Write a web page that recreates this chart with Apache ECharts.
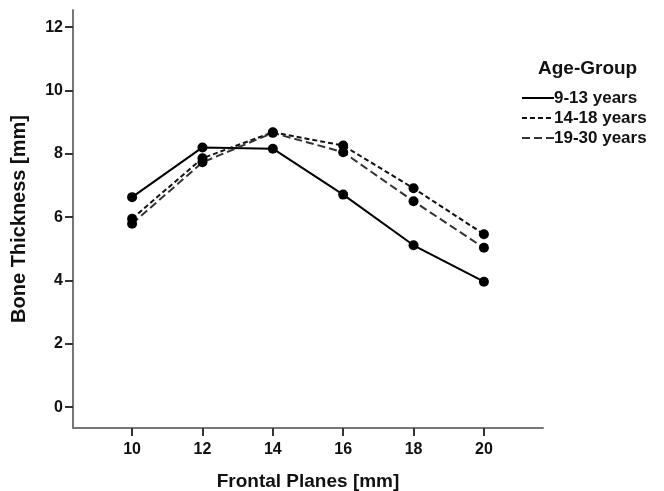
<!DOCTYPE html>
<html>
<head>
<meta charset="utf-8">
<script src="https://cdn.jsdelivr.net/npm/echarts@6/dist/echarts.min.js"></script>
<style>
  html, body { margin: 0; padding: 0; background: #fff; }
  #chart { width: 664px; height: 491px; }
</style>
</head>
<body>
<div id="chart"></div>
<script>
// frontal planes (mm)
const planes = [10, 12, 14, 16, 18, 20];
const yTicks = [0, 2, 4, 6, 8, 10, 12];
const ageGroups = ['9-13 years', '14-18 years', '19-30 years'];
// bone thickness (mm) per age group
const age9to13 = [6.63, 8.20, 8.16, 6.71, 5.11, 3.96];
const age14to18 = [5.95, 7.86, 8.68, 8.26, 6.91, 5.46];
const age19to30 = [5.79, 7.73, 8.66, 8.05, 6.50, 5.03];

const values = [age9to13, age14to18, age19to30];
const dashes = ['solid', [5, 3], [8, 4]];
const colors = ['#000', '#111', '#333'];

const font = 'Liberation Sans, Arial, sans-serif';

const chart = echarts.init(document.getElementById('chart'));
const option = {
  animation: false,
  backgroundColor: '#fff',
  grid: { left: 73, right: 121, top: 10, bottom: 63, containLabel: false, outerBoundsMode: 'none' },
  title: {
    text: 'Age-Group',
    left: 533, top: 54,
    textStyle: { fontFamily: font, fontWeight: 'bold', fontSize: 19, color: '#111' }
  },
  legend: {
    orient: 'vertical',
    left: 516, top: 84,
    itemWidth: 32, itemHeight: 14, itemGap: 2,
    itemStyle: { opacity: 0 },
    textStyle: { fontFamily: font, fontWeight: 'bold', fontSize: 17, lineHeight: 18, color: '#111', padding: [0, 0, 0, -5] },
    data: ageGroups
  },
  xAxis: {
    type: 'value',
    min: 8.32, max: 21.68,
    name: 'Frontal Planes [mm]',
    nameLocation: 'middle', nameGap: 44,
    nameTextStyle: { fontFamily: font, fontWeight: 'bold', fontSize: 19, color: '#111' },
    splitLine: { show: false },
    axisLine: { onZero: false, lineStyle: { color: '#777', width: 2 } },
    axisTick: { customValues: planes, length: 8, lineStyle: { color: '#333', width: 2 } },
    axisLabel: { customValues: planes, margin: 14, fontFamily: font, fontWeight: 'bold', fontSize: 16, color: '#111' }
  },
  yAxis: {
    type: 'value',
    min: -0.66, max: 12.54,
    name: 'Bone Thickness [mm]',
    nameLocation: 'middle', nameGap: 44,
    nameTextStyle: { fontFamily: font, fontWeight: 'bold', fontSize: 20, color: '#111' },
    splitLine: { show: false },
    axisLine: { show: true, onZero: false, lineStyle: { color: '#777', width: 2 } },
    axisTick: { show: true, customValues: yTicks, length: 8, lineStyle: { color: '#333', width: 2 } },
    axisLabel: { customValues: yTicks, margin: 10, fontFamily: font, fontWeight: 'bold', fontSize: 16, color: '#111' }
  },
  series: ageGroups.map((name, i) => ({
    name: name,
    type: 'line',
    data: planes.map((p, j) => [p, values[i][j]]),
    symbol: 'circle',
    symbolSize: 10,
    itemStyle: { color: '#000' },
    lineStyle: { color: colors[i], width: 2, type: dashes[i] }
  }))
};
chart.setOption(option);
</script>
</body>
</html>
